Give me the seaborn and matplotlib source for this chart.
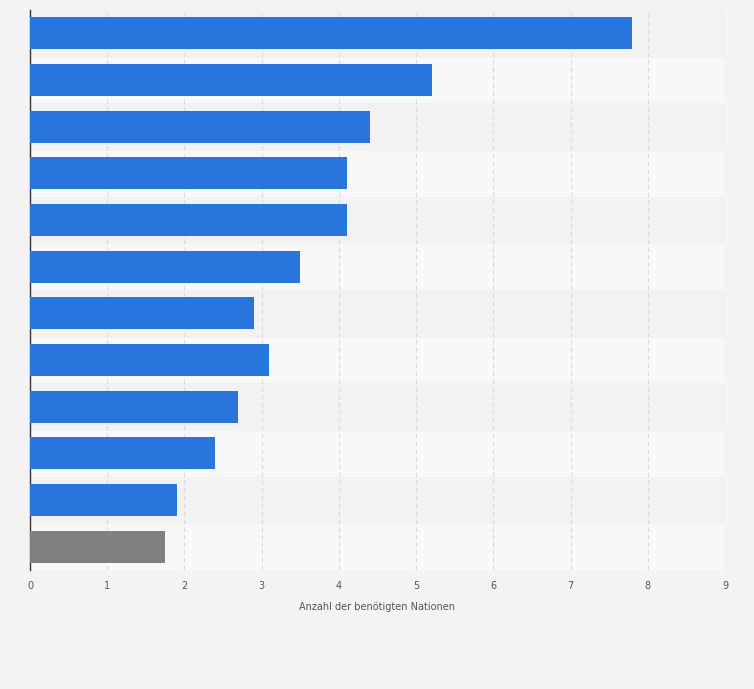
import matplotlib
matplotlib.use("Agg")
import matplotlib.pyplot as plt
import seaborn as sns
import pandas as pd

categories = [f"Kategorie {i}" for i in range(1, 13)]
values = [7.8, 5.2, 4.4, 4.1, 4.1, 3.5, 2.9, 3.1, 2.7, 2.4, 1.9, 1.75]
colors = ["#2876dd"] * 11 + ["#808080"]
xticks = list(range(10))

df = pd.DataFrame({"cat": categories, "val": values})

fig = plt.figure(figsize=(7.54, 6.89), dpi=100, facecolor="#f3f3f3")
ax = fig.add_axes([30/754, 1-570/689, 695/754, 560/689])
ax.set_facecolor("#f8f8f8")
for i in range(len(categories)):
    if i % 2 == 0:
        ax.axhspan(i-0.5, i+0.5, color="#f2f2f2", zorder=0)
sns.barplot(data=df, x="val", y="cat", hue="cat", palette=colors, legend=False,
            width=0.68, ax=ax, zorder=3, saturation=1)
ax.set_xlim(0, 9)
ax.set_ylim(len(categories)-0.5, -0.5)
ax.set_xticks(xticks)
ax.set_xticklabels([str(t) for t in xticks], fontsize=7, color="#555555")
ax.set_yticks([])
ax.set_ylabel("")
ax.set_xlabel("Anzahl der benötigten Nationen", fontsize=7, color="#555555", labelpad=8)
ax.grid(axis="x", color="#d8d8d8", linestyle=(0, (4, 3)), linewidth=0.8, zorder=1)
ax.tick_params(axis="x", length=0, pad=8)
for s in ["top", "right", "bottom"]:
    ax.spines[s].set_visible(False)
ax.spines["left"].set_color("#333333")
ax.spines["left"].set_linewidth(1)
fig.savefig("out.png", dpi=100, facecolor=fig.get_facecolor())
